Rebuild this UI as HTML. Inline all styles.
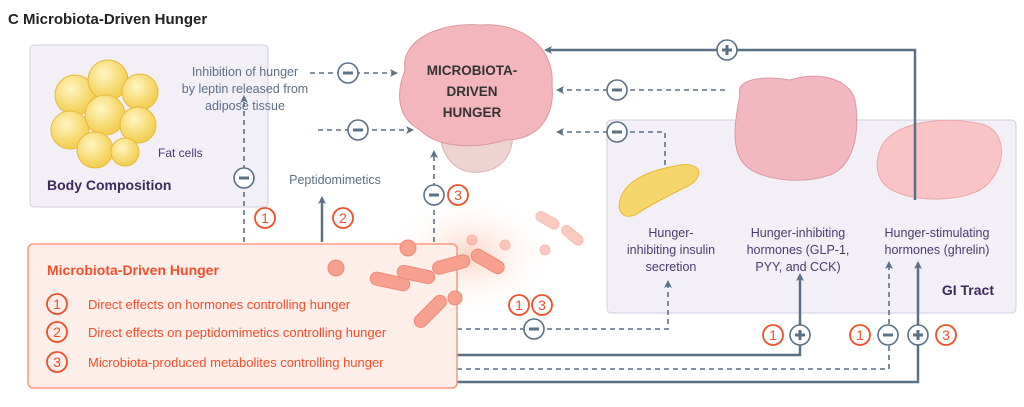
<!DOCTYPE html>
<html><head><meta charset="utf-8"><style>
body{margin:0;background:#fff}
svg{display:block}
text{font-family:"Liberation Sans",sans-serif}
</style></head><body>
<svg width="1024" height="407" viewBox="0 0 1024 407" xmlns="http://www.w3.org/2000/svg">
<defs>
<marker id="a" markerWidth="8" markerHeight="8" refX="6" refY="4" orient="auto" markerUnits="userSpaceOnUse"><path d="M0,0 L8,4 L0,8 L2,4z" fill="#5a7185"/></marker>
<radialGradient id="glow" cx="50%" cy="50%" r="50%"><stop offset="0" stop-color="#fbd0bf" stop-opacity="0.9"/><stop offset="1" stop-color="#fff" stop-opacity="0"/></radialGradient>
<radialGradient id="fat" cx="40%" cy="35%" r="60%"><stop offset="0" stop-color="#fff6c2"/><stop offset="1" stop-color="#f3cf55"/></radialGradient>
</defs>
<text x="8" y="24" font-size="15" font-weight="bold" fill="#222">C  Microbiota-Driven Hunger</text>
<rect x="30" y="45" width="238" height="162" rx="4" fill="#f2eff6" stroke="#d4cde0"/>
<rect x="607" y="120" width="409" height="193" rx="4" fill="#f2eff6" stroke="#d4cde0"/>
<g stroke="#e8b93a" stroke-width="1" fill="url(#fat)">
<circle cx="75" cy="95" r="20"/><circle cx="108" cy="80" r="20"/><circle cx="140" cy="92" r="18"/>
<circle cx="70" cy="130" r="19"/><circle cx="105" cy="115" r="20"/><circle cx="138" cy="125" r="18"/>
<circle cx="95" cy="150" r="18"/><circle cx="125" cy="152" r="14"/>
</g>
<text x="158" y="157" font-size="12" fill="#4b3a70">Fat cells</text>
<text x="47" y="190" font-size="14" font-weight="bold" fill="#3d2a5c">Body Composition</text>
<text fill="#5e6f86" font-size="12.5" text-anchor="middle"><tspan x="245" y="76">Inhibition of hunger</tspan><tspan x="245" y="93">by leptin released from</tspan><tspan x="245" y="110">adipose tissue</tspan></text>
<text x="335" y="184" font-size="12.5" fill="#5e6f86" text-anchor="middle">Peptidomimetics</text>
<!-- brain -->
<path d="M440,130 C440,160 460,175 480,172 C505,170 515,150 512,128Z" fill="#eed3d3" stroke="#d9b3b3"/>
<path d="M405,70 C400,40 440,22 480,25 C525,22 555,50 552,85 C555,115 540,140 505,140 C480,148 440,150 420,130 C398,118 395,95 405,70Z" fill="#f4b6bd" stroke="#d79aa0"/>
<text font-size="13.5" font-weight="bold" fill="#333" text-anchor="middle"><tspan x="472" y="75">MICROBIOTA-</tspan><tspan x="472" y="96">DRIVEN</tspan><tspan x="472" y="117">HUNGER</tspan></text>
<path d="M620,200 C625,180 650,170 680,165 C700,162 705,175 690,185 C670,195 650,205 635,215 C622,220 617,210 620,200Z" fill="#f6d56a" stroke="#e6b93a"/>
<path d="M740,95 C735,80 760,75 790,80 C820,70 850,80 855,100 C860,130 855,165 830,175 C800,185 760,180 745,165 C730,150 735,120 740,95Z" fill="#f2b7c0" stroke="#d99aa4"/>
<path d="M880,150 C890,120 950,115 985,125 C1010,135 1005,175 980,190 C950,205 900,200 885,185 C875,175 876,160 880,150Z" fill="#f9c4c6" stroke="#eaa8ab"/>
<text fill="#4b3a70" font-size="12.5" text-anchor="middle"><tspan x="671" y="237">Hunger-</tspan><tspan x="671" y="254">inhibiting insulin</tspan><tspan x="671" y="271">secretion</tspan></text>
<text fill="#4b3a70" font-size="12.5" text-anchor="middle"><tspan x="798" y="237">Hunger-inhibiting</tspan><tspan x="798" y="254">hormones (GLP-1,</tspan><tspan x="798" y="271">PYY, and CCK)</tspan></text>
<text fill="#4b3a70" font-size="12.5" text-anchor="middle"><tspan x="937" y="237">Hunger-stimulating</tspan><tspan x="937" y="254">hormones (ghrelin)</tspan></text>
<text x="994" y="295" font-size="14" font-weight="bold" fill="#3d2a5c" text-anchor="end">GI Tract</text>
<ellipse cx="470" cy="255" rx="85" ry="60" fill="url(#glow)"/>
<!-- connectors -->
<g stroke="#5a7185" stroke-width="2" fill="none">
<path d="M915,200 V50 H546" stroke-width="2.5" marker-end="url(#a)"/>
<path d="M322,242 V198" stroke-width="2.5" marker-end="url(#a)"/>
<path d="M457,355 H800 V275" stroke-width="2.5" marker-end="url(#a)"/>
<path d="M457,382 H918 V263" stroke-width="2.5" marker-end="url(#a)"/>
</g>
<g stroke="#5a7185" stroke-width="1.6" fill="none" stroke-dasharray="5,4">
<path d="M310,73 H396" marker-end="url(#a)"/>
<path d="M318,130 H412" marker-end="url(#a)"/>
<path d="M725,90 H558" marker-end="url(#a)"/>
<path d="M665,165 V132 H558" marker-end="url(#a)"/>
<path d="M244,242 V97" marker-end="url(#a)"/>
<path d="M434,242 V152" marker-end="url(#a)"/>
<path d="M457,329 H668 V282" marker-end="url(#a)"/>
<path d="M457,369 H889 V263" marker-end="url(#a)"/>
</g>
<!-- red box -->
<rect x="28" y="244" width="429" height="144" rx="5" fill="#fdeeea" stroke="#f79a7e" stroke-width="1.5"/>
<text x="47" y="275" font-size="14" font-weight="bold" fill="#f0502a">Microbiota-Driven Hunger</text>
<g fill="none" stroke="#f0502a" stroke-width="1.8"><circle cx="57" cy="304" r="10"/><circle cx="57" cy="332" r="10"/><circle cx="57" cy="362" r="10"/></g>
<g fill="#f0502a" font-size="14" text-anchor="middle"><text x="57" y="309">1</text><text x="57" y="337">2</text><text x="57" y="367">3</text></g>
<g fill="#f0502a" font-size="13"><text x="88" y="309">Direct effects on hormones controlling hunger</text><text x="88" y="337">Direct effects on peptidomimetics controlling hunger</text><text x="88" y="367">Microbiota-produced metabolites controlling hunger</text></g>
<!-- bacteria over box -->
<g fill="#f7a090" stroke="#ef8a7a">
<rect x="370" y="275" width="40" height="13" rx="6.5" transform="rotate(12 390 281)"/>
<rect x="397" y="268" width="38" height="13" rx="6.5" transform="rotate(12 416 274)"/>
<rect x="432" y="258" width="38" height="13" rx="6.5" transform="rotate(-15 451 264)"/>
<rect x="470" y="255" width="36" height="13" rx="6.5" transform="rotate(30 488 261)"/>
<rect x="410" y="305" width="40" height="13" rx="6.5" transform="rotate(-45 430 311)"/>
<circle cx="408" cy="248" r="8"/><circle cx="336" cy="268" r="8"/><circle cx="455" cy="298" r="7"/>
<g opacity=".55"><rect x="535" y="215" width="25" height="10" rx="5" transform="rotate(30 547 220)"/>
<rect x="560" y="230" width="25" height="10" rx="5" transform="rotate(40 572 235)"/>
<circle cx="545" cy="250" r="5"/><circle cx="505" cy="245" r="5"/><circle cx="472" cy="240" r="5"/></g>
</g>
<g fill="#fff" stroke="#5a7185" stroke-width="1.6">
<circle cx="727" cy="50" r="10"/><circle cx="348" cy="73" r="10"/><circle cx="358" cy="130" r="10"/>
<circle cx="617" cy="90" r="10"/><circle cx="617" cy="132" r="10"/><circle cx="244" cy="178" r="10"/>
<circle cx="434" cy="195" r="10"/><circle cx="534" cy="329" r="10"/><circle cx="800" cy="335" r="10"/>
<circle cx="888" cy="335" r="10"/><circle cx="918" cy="335" r="10"/>
</g>
<g stroke="#5a7185" stroke-width="3">
<path d="M722,50h10M727,45v10"/><path d="M343,73h10"/><path d="M353,130h10"/><path d="M612,90h10"/><path d="M612,132h10"/><path d="M239,178h10"/><path d="M429,195h10"/><path d="M529,329h10"/><path d="M795,335h10M800,330v10"/><path d="M883,335h10"/><path d="M913,335h10M918,330v10"/>
</g>
<g fill="#fff" stroke="#f0502a" stroke-width="1.8"><circle cx="265" cy="218" r="10"/><circle cx="343" cy="218" r="10"/><circle cx="458" cy="195" r="10"/><circle cx="519" cy="305" r="10"/><circle cx="542" cy="305" r="10"/><circle cx="773" cy="335" r="10"/><circle cx="860" cy="335" r="10"/><circle cx="946" cy="335" r="10"/></g>
<g fill="#f0502a" font-size="14" text-anchor="middle"><text x="265" y="223">1</text><text x="343" y="223">2</text><text x="458" y="200">3</text><text x="519" y="310">1</text><text x="542" y="310">3</text><text x="773" y="340">1</text><text x="860" y="340">1</text><text x="946" y="340">3</text></g>
</svg>
</body></html>
